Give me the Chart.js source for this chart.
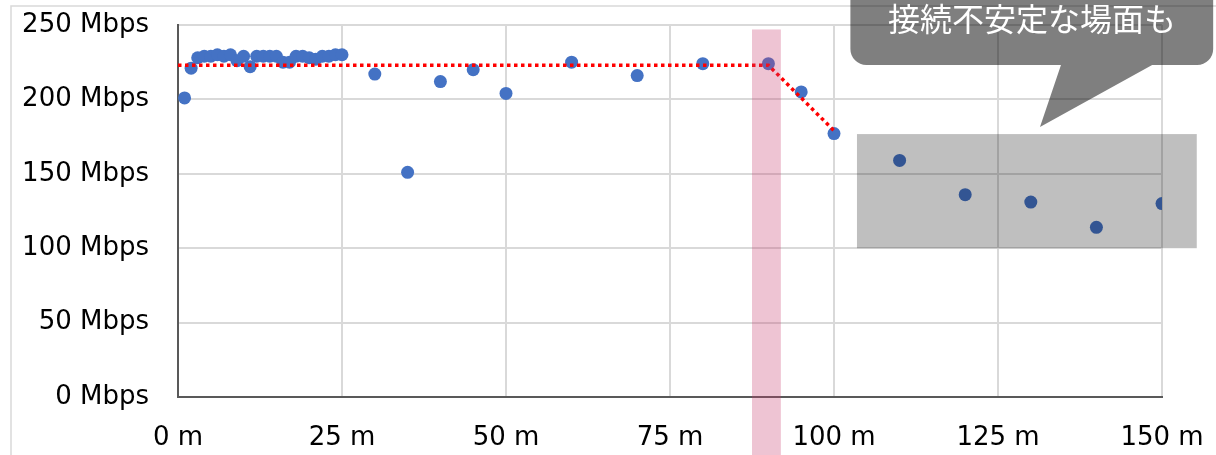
<!DOCTYPE html>
<html>
<head>
<meta charset="utf-8">
<script src="https://cdn.jsdelivr.net/npm/chart.js@4"></script>
<style>
  html, body { margin: 0; padding: 0; background: #fff; }
  canvas { display: block; }
</style>
</head>
<body>
<canvas id="chart" width="1216" height="455"></canvas>
<script>
'use strict';

// ── DATA ──────────────────────────────────────────────────────────
const distances = [1, 2, 3, 4, 5, 6, 7, 8, 9, 10, 11, 12, 13, 14, 15, 16, 17, 18, 19, 20,
  21, 22, 23, 24, 25, 30, 35, 40, 45, 50, 60, 70, 80, 90, 95, 100, 110, 120, 130, 140, 150];
const speeds = [201, 221, 228, 229, 229, 230, 229, 230, 226, 229, 222, 229, 229, 229, 229, 225, 225, 229, 229, 228,
  227, 229, 229, 230, 230, 217, 151, 212, 220, 204, 225, 216, 224, 224, 205, 177, 159, 136, 131, 114, 130];

// trend line (red dotted)
const trendX = [0, 90, 100];
const trendY = [223, 223, 179];

const xTicks = [0, 25, 50, 75, 100, 125, 150];
const yTicks = [0, 50, 100, 150, 200, 250];

// highlighted ranges (data units)
const bandRange = [87.5, 91.9];          // m
const bandTop = 247;                     // Mbps
const unstableX = [103.5, 155.3];        // m
const unstableY = [100, 176.7];          // Mbps
const calloutText = '接続不安定な場面も';

// ── STYLE ─────────────────────────────────────────────────────────
const FONT = "'DejaVu Sans', Verdana, sans-serif";
const GRID = '#d9d9d9';
const AXIS = '#595959';

const points = distances.map((d, i) => ({ x: d, y: speeds[i] }));
const trend = trendX.map((d, i) => ({ x: d, y: trendY[i] }));

// ── OVERLAYS ──────────────────────────────────────────────────────
const frame = {
  id: 'frame',
  beforeDraw(chart) {
    const c = chart.ctx;
    c.save();
    c.strokeStyle = GRID;
    c.lineWidth = 1.5;
    c.beginPath();
    c.moveTo(11, chart.height);
    c.lineTo(11, 6);
    c.lineTo(chart.width, 6);
    c.stroke();
    c.restore();
  }
};

const overlays = {
  id: 'overlays',
  afterDatasetsDraw(chart) {
    const c = chart.ctx;
    const xs = chart.scales.x, ys = chart.scales.y;
    c.save();

    // pink band at 90 m
    const bx0 = xs.getPixelForValue(bandRange[0]);
    const bx1 = xs.getPixelForValue(bandRange[1]);
    c.fillStyle = 'rgba(200,60,110,0.3)';
    c.fillRect(bx0, ys.getPixelForValue(bandTop), bx1 - bx0, chart.height);

    // grey box over unstable points
    const ux0 = xs.getPixelForValue(unstableX[0]);
    const ux1 = xs.getPixelForValue(unstableX[1]);
    const uy0 = ys.getPixelForValue(unstableY[1]);
    const uy1 = ys.getPixelForValue(unstableY[0]);
    c.fillStyle = 'rgba(0,0,0,0.25)';
    c.fillRect(ux0, uy0, ux1 - ux0, uy1 - uy0);

    // callout bubble
    const cl = xs.getPixelForValue(102.5);
    const cr = xs.getPixelForValue(157.8);
    const cb = ys.getPixelForValue(223.1);
    const ct = -30;
    const r = 16;
    c.fillStyle = 'rgba(0,0,0,0.5)';
    c.beginPath();
    c.moveTo(cl, ct);
    c.lineTo(cr, ct);
    c.arcTo(cr, cb, cr - r, cb, r);
    c.lineTo(xs.getPixelForValue(148.5), cb);
    c.lineTo(xs.getPixelForValue(131.4), ys.getPixelForValue(181.5));
    c.lineTo(xs.getPixelForValue(134.6), cb);
    c.arcTo(cl, cb, cl, cb - r, r);
    c.closePath();
    c.fill();

    c.fillStyle = '#fff';
    c.font = "32px 'Noto Sans CJK JP', sans-serif";
    c.textAlign = 'center';
    c.textBaseline = 'middle';
    c.fillText(calloutText, xs.getPixelForValue(130.2), 19);
    c.restore();
  }
};

// ── CHART ─────────────────────────────────────────────────────────
new Chart(document.getElementById('chart'), {
  type: 'scatter',
  data: {
    datasets: [
      {
        label: 'trend',
        data: trend,
        showLine: true,
        borderColor: '#ff0000',
        borderWidth: 3.5,
        borderDash: [3.5, 3.5],
        pointRadius: 0,
        order: 0
      },
      {
        label: 'speed',
        data: points,
        backgroundColor: '#4472c4',
        borderWidth: 0,
        pointRadius: 6.5,
        order: 1
      }
    ]
  },
  options: {
    responsive: false,
    animation: false,
    devicePixelRatio: 1,
    layout: { padding: { top: 25, right: 54, left: 0, bottom: 0 } },
    plugins: {
      legend: { display: false },
      tooltip: { enabled: false }
    },
    scales: {
      x: {
        type: 'linear',
        min: 0, max: 150,
        afterBuildTicks: s => { s.ticks = xTicks.map(v => ({ value: v })); },
        afterFit: s => { s.height = 58; s.paddingLeft = 0; s.paddingRight = 0; },
        grid: { color: GRID, lineWidth: 2, drawTicks: false },
        border: { color: AXIS, width: 2 },
        ticks: {
          padding: 26,
          color: '#000',
          font: { family: FONT, size: 26 },
          callback: v => v + ' m'
        }
      },
      y: {
        type: 'linear',
        min: 0, max: 250,
        afterBuildTicks: s => { s.ticks = yTicks.map(v => ({ value: v })); },
        afterFit: s => { s.width = 178; s.paddingTop = 0; s.paddingBottom = 0; },
        grid: { color: GRID, lineWidth: 2, drawTicks: false },
        border: { color: AXIS, width: 2 },
        ticks: {
          padding: 29,
          color: '#000',
          font: { family: FONT, size: 26 },
          callback: v => v + ' Mbps'
        }
      }
    }
  },
  plugins: [frame, overlays]
});
</script>
</body>
</html>
